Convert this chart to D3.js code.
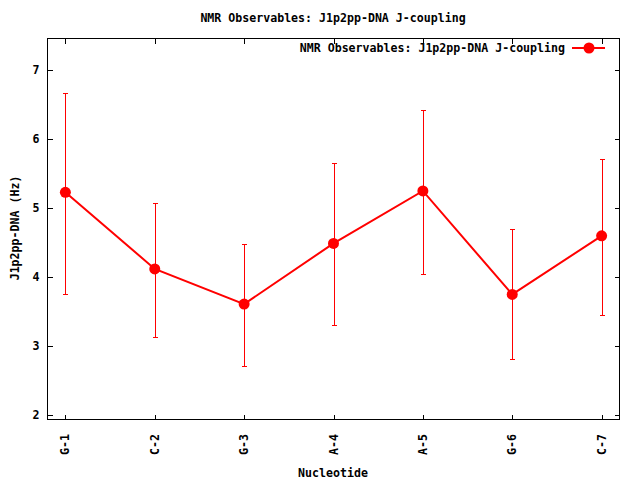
<!DOCTYPE html>
<html><head><meta charset="utf-8">
<script src="https://cdn.jsdelivr.net/npm/d3@7"></script>
<style>body{margin:0;background:#fff}</style>
</head><body>
<svg id="c" width="640" height="480"></svg>
<script>
const categories = ["G-1","C-2","G-3","A-4","A-5","G-6","C-7"];
const values = [5.22, 4.11, 3.60, 4.48, 5.24, 3.74, 4.59];
const errLow = [3.74, 3.13, 2.71, 3.29, 4.04, 2.80, 3.44];
const errHigh = [6.66, 5.07, 4.47, 5.65, 6.42, 4.69, 5.71];
const yTicks = [2,3,4,5,6,7];
const title = "NMR Observables: J1p2pp-DNA J-coupling";

const svg = d3.select("#c");
const L=47.5, R=619.5, T=38.5, B=419.5;
const font = "'DejaVu Sans Mono', monospace";
const x = d3.scaleLinear().domain([-0.2, 6.2]).range([L, R]);
const y = d3.scaleLinear().domain([2, 7]).range([414.5, 69.5]);

// title
svg.append("text").attr("x",333).attr("y",22).attr("text-anchor","middle")
  .attr("font-family",font).attr("font-weight","bold").attr("font-size","11.6px").text(title);

// axes with inward ticks
const idx = categories.map((d,i)=>i);
const gL = svg.append("g").attr("transform",`translate(${L},0)`)
  .call(d3.axisLeft(y).tickValues(yTicks).tickFormat(d3.format("d")).tickSizeInner(-5).tickSizeOuter(0).tickPadding(8));
const gR = svg.append("g").attr("transform",`translate(${R},0)`)
  .call(d3.axisRight(y).tickValues(yTicks).tickSizeInner(-5).tickSizeOuter(0).tickFormat(""));
const gB = svg.append("g").attr("transform",`translate(0,${B})`)
  .call(d3.axisBottom(x).tickValues(idx).tickSizeInner(-5).tickSizeOuter(0).tickFormat(""));
const gT = svg.append("g").attr("transform",`translate(0,${T})`)
  .call(d3.axisTop(x).tickValues(idx).tickSizeInner(-5).tickSizeOuter(0).tickFormat(""));
[gL,gR,gB,gT].forEach(g=>{g.select(".domain").remove();
  g.selectAll("line").attr("stroke","#000").attr("shape-rendering","crispEdges");
  g.selectAll("text").attr("font-family",font).attr("font-weight","bold").attr("font-size","11.6px").attr("fill","#000");});
gL.selectAll("text").attr("dy","0.35em");

// x tick labels rotated
svg.append("g").selectAll("text").data(categories).join("text")
  .attr("transform",(d,i)=>`translate(${x(i)+4},434) rotate(-90)`)
  .attr("text-anchor","end")
  .attr("font-family",font).attr("font-weight","bold").attr("font-size","11.6px").text(d=>d);

// border
svg.append("rect").attr("x",L).attr("y",T).attr("width",R-L).attr("height",B-T)
  .attr("fill","none").attr("stroke","#000").attr("shape-rendering","crispEdges");

// axis labels
svg.append("text").attr("x",333).attr("y",477).attr("text-anchor","middle")
  .attr("font-family",font).attr("font-weight","bold").attr("font-size","11.6px").text("Nucleotide");
svg.append("text").attr("transform","translate(19,228) rotate(-90)").attr("text-anchor","middle")
  .attr("font-family",font).attr("font-weight","bold").attr("font-size","11.6px").text("J1p2pp-DNA (Hz)");

const red = "#ff0000";
// error bars
const eb = svg.append("g").attr("stroke",red).attr("stroke-width",1).attr("shape-rendering","crispEdges");
idx.forEach(i=>{
  const cx = Math.round(x(i))+0.5;
  eb.append("line").attr("x1",cx).attr("x2",cx).attr("y1",y(errLow[i])).attr("y2",y(errHigh[i]));
  eb.append("line").attr("x1",cx-2.5).attr("x2",cx+2.5).attr("y1",Math.round(y(errLow[i]))+0.5).attr("y2",Math.round(y(errLow[i]))+0.5);
  eb.append("line").attr("x1",cx-2.5).attr("x2",cx+2.5).attr("y1",Math.round(y(errHigh[i]))+0.5).attr("y2",Math.round(y(errHigh[i]))+0.5);
});
// line
svg.append("path").datum(values).attr("fill","none").attr("stroke",red).attr("stroke-width",2)
  .attr("d",d3.line().x((d,i)=>x(i)).y(d=>y(d)));
svg.append("g").selectAll("circle").data(values).join("circle")
  .attr("cx",(d,i)=>x(i)).attr("cy",d=>y(d)).attr("r",5.5).attr("fill",red);

// legend
svg.append("text").attr("x",565).attr("y",52).attr("text-anchor","end")
  .attr("font-family",font).attr("font-weight","bold").attr("font-size","11.6px").text(title);
svg.append("line").attr("x1",572).attr("x2",605).attr("y1",48).attr("y2",48).attr("stroke",red).attr("stroke-width",2);
svg.append("circle").attr("cx",589).attr("cy",48).attr("r",5.5).attr("fill",red);
</script>
</body></html>
